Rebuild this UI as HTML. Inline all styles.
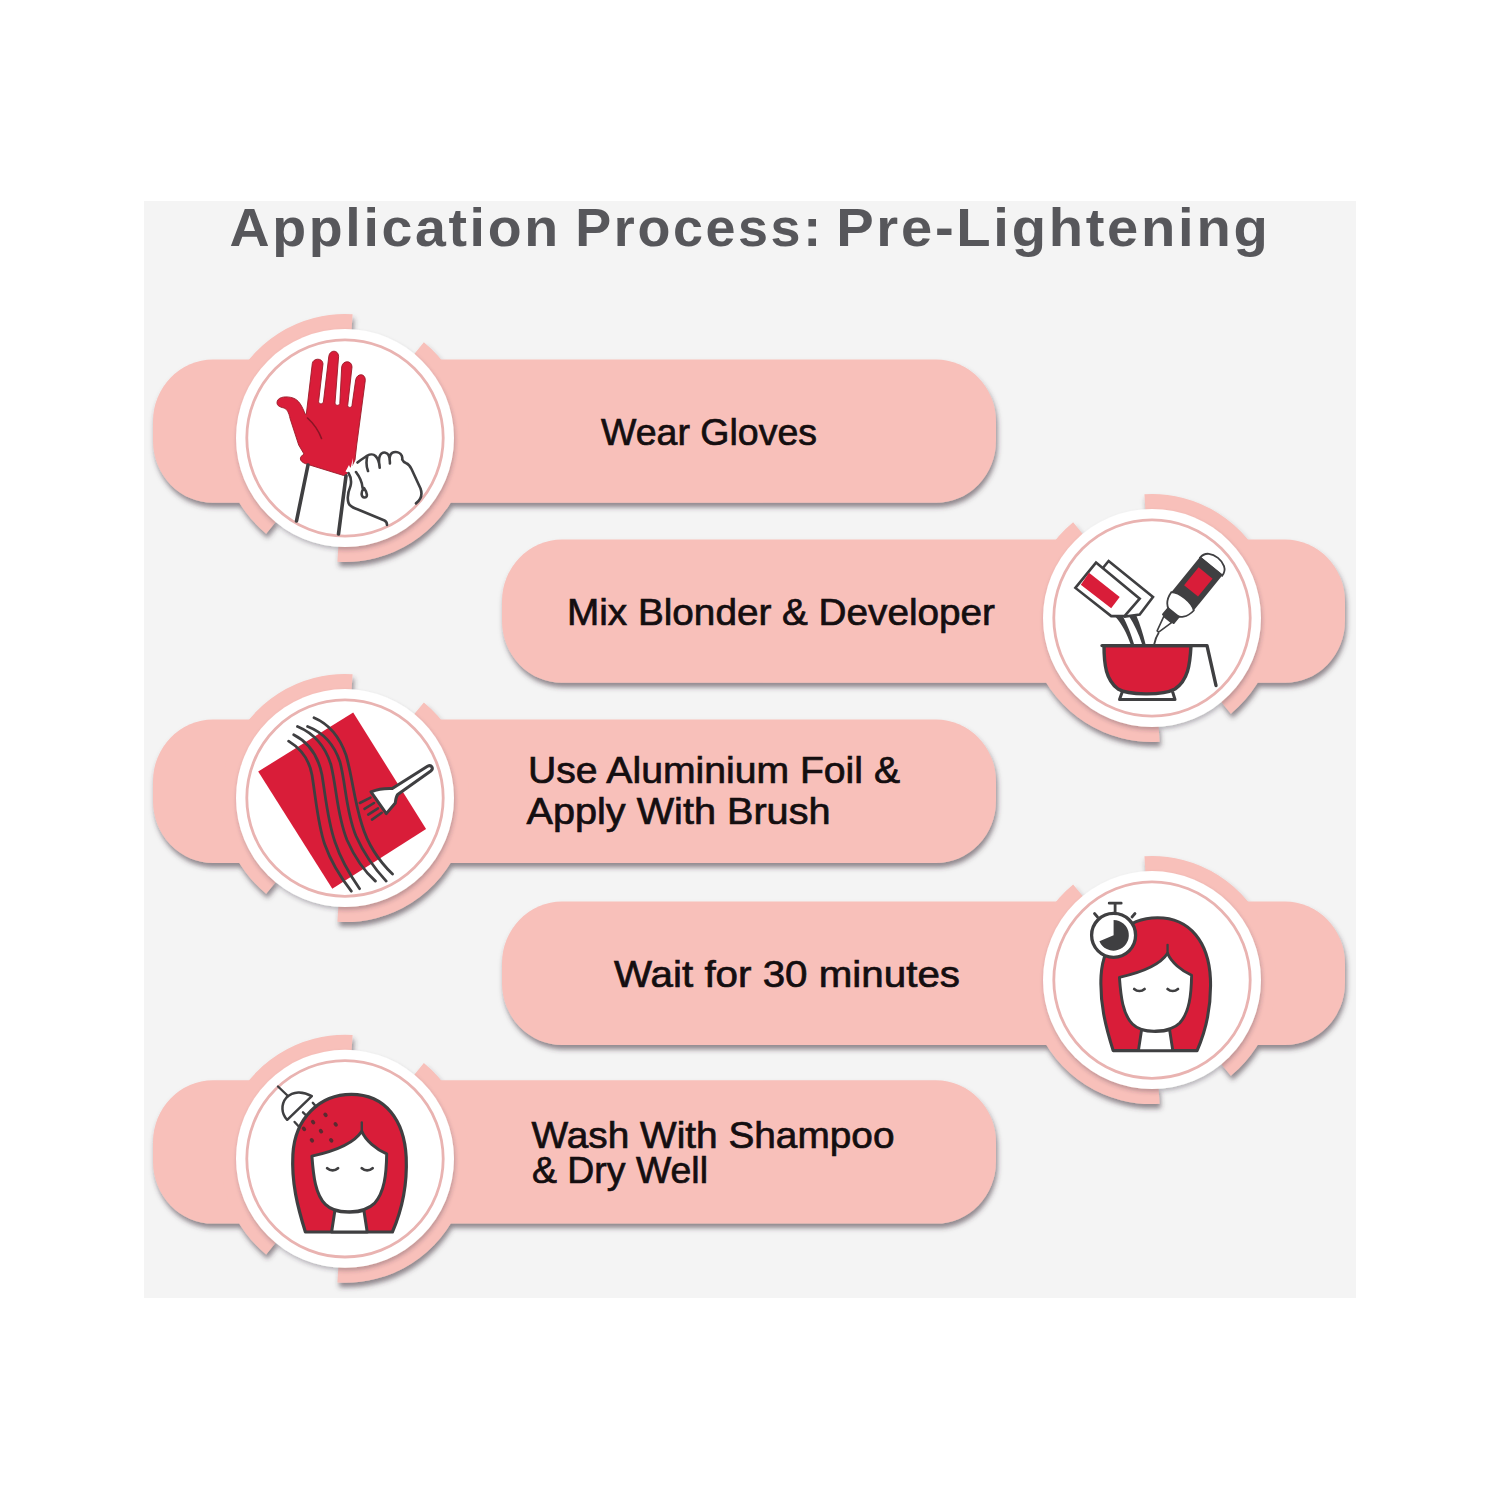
<!DOCTYPE html>
<html><head><meta charset="utf-8">
<style>
html,body{margin:0;padding:0;background:#fff;}
svg{display:block;}
text{font-family:"Liberation Sans",sans-serif;}
</style></head><body>
<svg width="1500" height="1500" viewBox="0 0 1500 1500">
<defs>
<filter id="sh" x="-10%" y="-20%" width="120%" height="150%">
<feDropShadow dx="1.5" dy="4.5" stdDeviation="2.6" flood-color="#3e2e3a" flood-opacity="0.55"/>
</filter>
<filter id="sh2" x="-20%" y="-20%" width="140%" height="150%">
<feDropShadow dx="1" dy="3" stdDeviation="2" flood-color="#382e40" flood-opacity="0.3"/>
</filter>
</defs>
<rect x="0" y="0" width="1500" height="1500" fill="#fff"/>
<rect x="144" y="201" width="1212" height="1097" fill="#F4F4F4"/>
<g font-size="54" font-weight="700" fill="#57575B" letter-spacing="2.6">
<text x="229.5" y="246" textLength="331.3" lengthAdjust="spacingAndGlyphs">Application</text>
<text x="575.3" y="246" textLength="248.4" lengthAdjust="spacingAndGlyphs">Process:</text>
<text x="836.2" y="246" textLength="434.3" lengthAdjust="spacingAndGlyphs">Pre-Lightening</text>
</g>
<g filter="url(#sh)">
<rect x="153" y="359.5" width="843" height="143.3" rx="60" ry="62" fill="#F8C0BA"/>
<path d="M266.13,533.68 A124.0,124.0 0 0 1 352.57,314.23 L351.53,331.20 A107,107 0 0 0 276.94,520.56 Z" fill="#F8C0BA"/>
<path d="M423.87,342.32 A124.0,124.0 0 0 1 337.43,561.77 L338.47,544.80 A107,107 0 0 0 413.06,355.44 Z" fill="#F8C0BA"/>
</g>
<circle cx="345" cy="438.0" r="109" fill="#fff" filter="url(#sh2)"/>
<circle cx="345" cy="438.0" r="98.2" fill="none" stroke="#E9B3B1" stroke-width="2.8"/>
<g filter="url(#sh)">
<rect x="502" y="539.5" width="843" height="143.3" rx="60" ry="62" fill="#F8C0BA"/>
<path d="M1144.43,494.23 A124.0,124.0 0 0 1 1230.87,713.68 L1220.06,700.56 A107,107 0 0 0 1145.47,511.20 Z" fill="#F8C0BA"/>
<path d="M1159.57,741.77 A124.0,124.0 0 0 1 1073.13,522.32 L1083.94,535.44 A107,107 0 0 0 1158.53,724.80 Z" fill="#F8C0BA"/>
</g>
<circle cx="1152" cy="618.0" r="109" fill="#fff" filter="url(#sh2)"/>
<circle cx="1152" cy="618.0" r="98.2" fill="none" stroke="#E9B3B1" stroke-width="2.8"/>
<g filter="url(#sh)">
<rect x="153" y="719.6" width="843" height="143.3" rx="60" ry="62" fill="#F8C0BA"/>
<path d="M266.13,893.78 A124.0,124.0 0 0 1 352.57,674.33 L351.53,691.30 A107,107 0 0 0 276.94,880.66 Z" fill="#F8C0BA"/>
<path d="M423.87,702.42 A124.0,124.0 0 0 1 337.43,921.87 L338.47,904.90 A107,107 0 0 0 413.06,715.54 Z" fill="#F8C0BA"/>
</g>
<circle cx="345" cy="798.1" r="109" fill="#fff" filter="url(#sh2)"/>
<circle cx="345" cy="798.1" r="98.2" fill="none" stroke="#E9B3B1" stroke-width="2.8"/>
<g filter="url(#sh)">
<rect x="502" y="901.6" width="843" height="143.3" rx="60" ry="62" fill="#F8C0BA"/>
<path d="M1144.43,856.33 A124.0,124.0 0 0 1 1230.87,1075.78 L1220.06,1062.66 A107,107 0 0 0 1145.47,873.30 Z" fill="#F8C0BA"/>
<path d="M1159.57,1103.87 A124.0,124.0 0 0 1 1073.13,884.42 L1083.94,897.54 A107,107 0 0 0 1158.53,1086.90 Z" fill="#F8C0BA"/>
</g>
<circle cx="1152" cy="980.1" r="109" fill="#fff" filter="url(#sh2)"/>
<circle cx="1152" cy="980.1" r="98.2" fill="none" stroke="#E9B3B1" stroke-width="2.8"/>
<g filter="url(#sh)">
<rect x="153" y="1080.3" width="843" height="143.3" rx="60" ry="62" fill="#F8C0BA"/>
<path d="M266.13,1254.48 A124.0,124.0 0 0 1 352.57,1035.03 L351.53,1052.00 A107,107 0 0 0 276.94,1241.36 Z" fill="#F8C0BA"/>
<path d="M423.87,1063.12 A124.0,124.0 0 0 1 337.43,1282.57 L338.47,1265.60 A107,107 0 0 0 413.06,1076.24 Z" fill="#F8C0BA"/>
</g>
<circle cx="345" cy="1158.8" r="109" fill="#fff" filter="url(#sh2)"/>
<circle cx="345" cy="1158.8" r="98.2" fill="none" stroke="#E9B3B1" stroke-width="2.8"/>
<g fill="#140E10" stroke="#140E10" stroke-width="0.7">
<text x="601" y="444.8" font-size="37.5" textLength="216" lengthAdjust="spacingAndGlyphs">Wear Gloves</text>
<text x="567" y="625" font-size="37.5" textLength="428" lengthAdjust="spacingAndGlyphs">Mix Blonder &amp; Developer</text>
<text x="528" y="782.7" font-size="37.5" textLength="372" lengthAdjust="spacingAndGlyphs">Use Aluminium Foil &amp;</text>
<text x="526.5" y="824" font-size="37.5" textLength="304" lengthAdjust="spacingAndGlyphs">Apply With Brush</text>
<text x="614" y="986.9" font-size="37.5" textLength="346" lengthAdjust="spacingAndGlyphs">Wait for 30 minutes</text>
<text x="531.5" y="1148" font-size="37.5" textLength="363" lengthAdjust="spacingAndGlyphs">Wash With Shampoo</text>
<text x="532" y="1182.7" font-size="37.5" textLength="176" lengthAdjust="spacingAndGlyphs">&amp; Dry Well</text>
</g>
<path d="M306.3,414.3 L312.3,363.5 C313,358 322.5,357.5 323,363.7 L318.6,401.5 C318.8,404.5 322.6,404.5 323.4,402 L328.8,356.3 C329.8,349.5 338.3,349.5 338.6,356.3 L335,403 C335.3,406 339.3,406 339.8,403.5 L341.7,367 C342.5,360 352,360 352,367 L347.7,405.5 C348,408 351.5,408 352,405.5 L355.7,379.7 C357,373 365.5,373 365.3,380.3 L356.7,445 L355,460 L352,466 L349,468 L347,473.5 C346.5,476 344,476 342,475 L308,464.5 C302,463 299,460 301,456.5 L304,454 L298.7,445 L290,418.3 C289,413 287,409 284,408 C279,407 276,405 277.3,401 C279,396.5 287,396 293,398 C299,400 302,406 305.3,414.3 Z" fill="#D91D39" stroke="#9a1a28" stroke-width="0.9" stroke-linejoin="round"/>
<path d="M307.5,418 C313,423 318,429 321.5,438.5" fill="none" stroke="#8a1525" stroke-width="1.6" stroke-linecap="round"/>
<path d="M345.5,471.5 L349,465 L350.5,468.5 L353,458 L352.5,468 L355,466 L351.5,474 Z" fill="#fff"/>
<path d="M308,465 L296.5,521" stroke="#3F3F41" stroke-width="3.6" fill="none" stroke-linecap="round"/>
<path d="M346,476 L338.5,534" stroke="#3F3F41" stroke-width="3.6" fill="none" stroke-linecap="round"/>
<path d="M357.5,462.5 C361,459.5 364.5,457.5 367.5,455.5 C370,454 373.5,454 375.5,456 C378,458.5 379.5,463 379.7,467.7 M368,471 C366.5,467 366,461 367.5,455.5 M379.7,467.7 C378.5,461 379,455.5 381.5,453.5 C384,451.8 387,452.5 388.5,455 C389.8,457.5 390,460.5 389.9,463.5 M389.6,460 C389.5,456 391,453 393.5,452.3 C397,451.5 400.5,452.8 401.8,455.8 C402.3,457.3 402.3,459 402.2,459.5 C403,461.5 404.5,462.5 406.3,463.2 C408.5,464 410,466 411.5,469 L420.5,488.5 C422.5,494 421,499.5 416,503.4 M356,472 C359,476 362,480 362.5,487.5 L363,489 C361,493 361,497 364.5,497.5 C368,497.5 367.5,493 364,488 M348.5,473 C351,477 351.5,482 350.5,486 C348,492 347,498 348.5,503 C350,507 354,508 358,509.5 L384.5,520.5 C386.5,521.5 387,523 387,525" fill="none" stroke="#3F3F41" stroke-width="2.6" stroke-linecap="round" stroke-linejoin="round"/>
<path d="M1104,645.6 C1104,665 1106,680 1118,689 C1128,695 1162,696 1175,689 C1188,680 1190,665 1191,645.6 Z" fill="#D91D39" stroke="#3F3F41" stroke-width="3.4" stroke-linejoin="round"/>
<path d="M1102,645.6 L1207,645.6 L1216,685.5" fill="none" stroke="#3F3F41" stroke-width="3.4" stroke-linecap="round" stroke-linejoin="round"/>
<path d="M1122.4,691.5 L1119.5,699.5 L1175,699.5 L1172.5,691.5" fill="none" stroke="#3F3F41" stroke-width="3" stroke-linejoin="round"/>
<path d="M1108.6,561 L1153,597 L1139.7,614.5 L1125,616.5 L1095,580 L1102.3,568.8 Z" fill="#fff" stroke="#3F3F41" stroke-width="2.6" stroke-linejoin="miter"/>
<path d="M1096,562.6 L1139.7,598.7 L1124.5,616.1 L1111.2,616.1 L1075.4,587.9 Z" fill="#fff" stroke="#3F3F41" stroke-width="2.6" stroke-linejoin="miter"/>
<path d="M1089,572.7 L1119.7,597.1 L1111.2,608.2 L1080.8,584.8 Z" fill="#D91D39"/>
<path d="M1115.6,617.1 C1122,624 1127,634 1130.5,644 L1134,644 C1131,634 1127,624 1123.2,617.1 Z" fill="#3F3F41"/>
<path d="M1128.9,616.1 C1134,624 1139,634 1142,644 L1145.5,644 C1143,634 1140,624 1136.5,616.1 Z" fill="#3F3F41"/>
<path d="M1158.8,632.5 C1156.5,636 1155,640 1154,645" fill="none" stroke="#3F3F41" stroke-width="1.8"/>
<g transform="translate(1217.3,558.7) rotate(39.2)"><path d="M-14,10 C-14,2 -7,-1 0,-1 C7,-1 14.5,2 14.5,10 Z" fill="#fff" stroke="#3F3F41" stroke-width="1.8"/><rect x="-14.5" y="9" width="29" height="47" fill="#3F3F41"/><rect x="-9" y="18.5" width="18" height="23" fill="#D91D39"/><path d="M-14.5,55 C-8,50 8,50 14.5,55 C14,64 9,71 0,71 C-9,71 -14,64 -14.5,55 Z" fill="#fff" stroke="#3F3F41" stroke-width="1.8"/><rect x="-7.8" y="68.5" width="15.6" height="10" rx="1" fill="#3F3F41"/><path d="M-5,78.5 L5,78.5 L1,94 L-1,94 Z" fill="#fff" stroke="#3F3F41" stroke-width="1.6" stroke-linejoin="round"/></g>
<path d="M353.2,712.6 L426.1,829.1 L332.3,888.7 L258.2,771.5 Z" fill="#D91D39"/>
<path d="M288.6,741.1 C300,748 309,758 312,775 C316,800 318,825 324.7,844.3 C331,862 341,878 351.3,891.2" fill="none" stroke="#3F3F41" stroke-width="2.8" stroke-linecap="round"/>
<path d="M293.7,734.8 C308,742 318,755 322,775 C326,800 328,822 335,842 C341,860 350,875 359.6,888.7" fill="none" stroke="#3F3F41" stroke-width="2.8" stroke-linecap="round"/>
<path d="M297.5,726.5 C313,733 325,745 331,765 C337,790 337,815 347,840 C355,858 364,871 375.4,881.1" fill="none" stroke="#3F3F41" stroke-width="2.8" stroke-linecap="round"/>
<path d="M307.6,726.5 C322,732 334,744 340,762 C346,785 346,812 356,836 C364,854 374,868 386.2,881.1" fill="none" stroke="#3F3F41" stroke-width="2.8" stroke-linecap="round"/>
<path d="M314,717.7 C329,724 340,738 346,755 C352,775 354,800 362,825 C368,845 378,860 392.5,874.1" fill="none" stroke="#3F3F41" stroke-width="2.8" stroke-linecap="round"/>
<path d="M371,791.8 C377,789.5 386,788.3 392.3,788.6 L427.5,766.3 C431.5,764 434,768.5 430.8,771 L397.7,794.5 C395.8,797 395.6,800.5 395.3,803 L386.3,813.6 Z" fill="#fff" stroke="#3F3F41" stroke-width="3" stroke-linejoin="round"/>
<path d="M370.5,797.7 L359.8,803" stroke="#3F3F41" stroke-width="2.6" stroke-linecap="round"/>
<path d="M374,803 L364.5,808.9" stroke="#3F3F41" stroke-width="2.6" stroke-linecap="round"/>
<path d="M378,808.3 L368.2,814.6" stroke="#3F3F41" stroke-width="2.6" stroke-linecap="round"/>
<path d="M381.7,812.8 L372,819.6" stroke="#3F3F41" stroke-width="2.6" stroke-linecap="round"/>
<g transform="translate(349.4,1094.4) scale(1.0)"><path d="M-44,137.6 C-52,112 -58,88 -56.5,60 C-54.5,24 -30,0 2,0 C36,0 55,26 56.8,63 C58,92 52,117 43,137.6 Z" fill="#D91D39" stroke="#3F3F41" stroke-width="3.2" stroke-linejoin="round"/><path d="M-37.5,61.7 C-16,57 4,50 12.4,36.8 C16,46 27,55 37.3,59.5 C37,80 35,98 25,109 C15,119 -13,121 -24,110 C-34,100 -36,82 -37.5,61.7 Z" fill="#fff" stroke="#3F3F41" stroke-width="3" stroke-linejoin="round"/><path d="M12.4,38 L12.4,28" stroke="#3F3F41" stroke-width="2.4" stroke-linecap="round"/><path d="M-14.5,116 L-17.8,137.6 L17.8,137.6 L14.5,116 C8,118.5 -8,118.5 -14.5,116 Z" fill="#fff" stroke="#3F3F41" stroke-width="3" stroke-linejoin="round"/><path d="M-22.2,73.8 C-19,76.5 -14.5,76.5 -11.4,73.8 M12.4,73.8 C15.5,76.5 20,76.5 23.2,73.8" fill="none" stroke="#3F3F41" stroke-width="2.8" stroke-linecap="round"/></g>
<g transform="translate(1155.6,917.8) scale(0.965)"><path d="M-44,137.6 C-52,112 -58,88 -56.5,60 C-54.5,24 -30,0 2,0 C36,0 55,26 56.8,63 C58,92 52,117 43,137.6 Z" fill="#D91D39" stroke="#3F3F41" stroke-width="3.2" stroke-linejoin="round"/><path d="M-37.5,61.7 C-16,57 4,50 12.4,36.8 C16,46 27,55 37.3,59.5 C37,80 35,98 25,109 C15,119 -13,121 -24,110 C-34,100 -36,82 -37.5,61.7 Z" fill="#fff" stroke="#3F3F41" stroke-width="3" stroke-linejoin="round"/><path d="M12.4,38 L12.4,28" stroke="#3F3F41" stroke-width="2.4" stroke-linecap="round"/><path d="M-14.5,116 L-17.8,137.6 L17.8,137.6 L14.5,116 C8,118.5 -8,118.5 -14.5,116 Z" fill="#fff" stroke="#3F3F41" stroke-width="3" stroke-linejoin="round"/><path d="M-22.2,73.8 C-19,76.5 -14.5,76.5 -11.4,73.8 M12.4,73.8 C15.5,76.5 20,76.5 23.2,73.8" fill="none" stroke="#3F3F41" stroke-width="2.8" stroke-linecap="round"/></g>
<circle cx="1113.6" cy="935.3" r="22" fill="#fff" stroke="#3F3F41" stroke-width="3.3"/>
<path d="M1113.6,935.3 L1113.6,920 A15.3,15.3 0 1 1 1099.4,941.2 Z" fill="#3F3F41"/>
<path d="M1115.1,912.5 L1115.1,903.8 M1109.2,903.2 L1121.2,903.2 M1097.5,917 L1094.5,913.5 M1132,917 L1135,913.5" stroke="#3F3F41" stroke-width="2.8" stroke-linecap="round"/>
<path d="M278,1086.5 L289,1097" stroke="#3F3F41" stroke-width="2.4" stroke-linecap="round"/>
<path d="M287.2,1119.8 C281.5,1114 280.5,1104.5 286.5,1097.5 C293,1091 303,1091 311.8,1096.2 Z" fill="#fff" stroke="#3F3F41" stroke-width="2.5" stroke-linejoin="round"/>
<path d="M303,1112.3 L306.2,1115.5" stroke="#3F3F41" stroke-width="2.4" stroke-linecap="round"/>
<path d="M294.6,1122 L298.8,1126.5" stroke="#3F3F41" stroke-width="2.4" stroke-linecap="round"/>
<path d="M312.8,1102.8 L316.2,1106.8" stroke="#3F3F41" stroke-width="2.4" stroke-linecap="round"/>
<ellipse cx="325.5" cy="1114.8" rx="1.9" ry="2.5" transform="rotate(-40 325.5 1114.8)" fill="#5a2a30"/>
<ellipse cx="313.1" cy="1122.1" rx="1.9" ry="2.5" transform="rotate(-40 313.1 1122.1)" fill="#5a2a30"/>
<ellipse cx="335.7" cy="1124.4" rx="1.9" ry="2.5" transform="rotate(-40 335.7 1124.4)" fill="#5a2a30"/>
<ellipse cx="321" cy="1131.2" rx="1.9" ry="2.5" transform="rotate(-40 321 1131.2)" fill="#5a2a30"/>
<ellipse cx="311.9" cy="1140.3" rx="1.9" ry="2.5" transform="rotate(-40 311.9 1140.3)" fill="#5a2a30"/>
<ellipse cx="331.2" cy="1140.3" rx="1.9" ry="2.5" transform="rotate(-40 331.2 1140.3)" fill="#5a2a30"/>
<ellipse cx="304" cy="1128.9" rx="1.9" ry="2.5" transform="rotate(-40 304 1128.9)" fill="#5a2a30"/>
</svg>
</body></html>
